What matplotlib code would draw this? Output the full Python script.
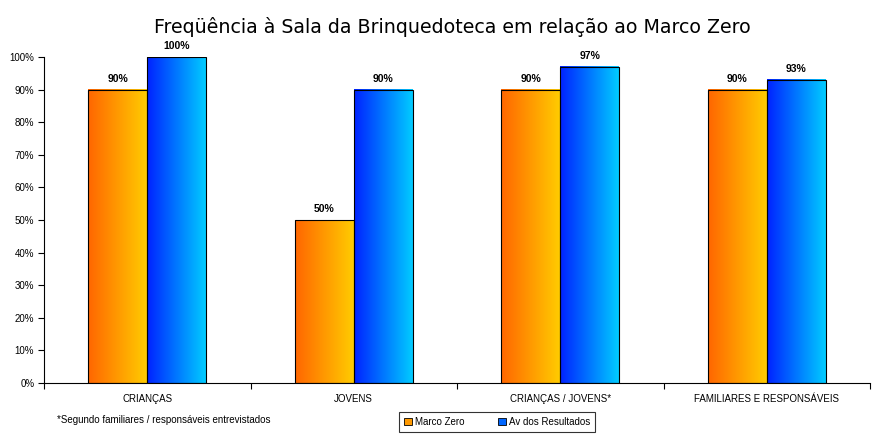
import numpy as np
import matplotlib.pyplot as plt
from matplotlib.colors import LinearSegmentedColormap
from matplotlib.patches import Patch

categories = ['CRIANÇAS', 'JOVENS', 'CRIANÇAS / JOVENS*', 'FAMILIARES E RESPONSÁVEIS']
marco_zero = [90, 50, 90, 90]
av_resultados = [100, 90, 97, 93]
series_names = ['Marco Zero', 'Av dos Resultados']

plt.rcParams['font.family'] = ['Liberation Sans', 'DejaVu Sans']

fig = plt.figure(figsize=(8.82, 4.38), dpi=100)
ax = fig.add_axes([44 / 882, 1 - 383 / 438, 826 / 882, 326 / 438])

cmap_orange = LinearSegmentedColormap.from_list('org', ['#ff6600', '#ffcc00'])
cmap_blue = LinearSegmentedColormap.from_list('blu', ['#0022ff', '#00ccff'])
grad = np.linspace(0, 1, 256).reshape(1, -1)

x = np.arange(len(categories))
w = 0.285

def gradient_bars(xs, vals, cmap):
    bars = ax.bar(xs, vals, w, color='none', edgecolor='black', linewidth=0.8, zorder=3)
    for b in bars:
        x0, y0 = b.get_x(), b.get_y()
        ax.imshow(grad, cmap=cmap, aspect='auto', zorder=2,
                  extent=(x0, x0 + b.get_width(), y0, y0 + b.get_height()))
    for b, v in zip(bars, vals):
        ax.text(b.get_x() + b.get_width() / 2, v + 1.8, f'{v}%', ha='center', va='bottom',
                fontsize=7.5, fontweight='bold')
    return bars

gradient_bars(x - w / 2, marco_zero, cmap_orange)
gradient_bars(x + w / 2, av_resultados, cmap_blue)

ax.set_xlim(-0.5, len(categories) - 0.5)
ax.set_ylim(0, 100)
ax.set_yticks(np.arange(0, 101, 10))
ax.set_yticklabels([f'{t}%' for t in range(0, 101, 10)], fontsize=7)
ax.set_xticks(np.arange(-0.5, len(categories), 1))
ax.set_xticklabels([])
ax.set_xticks(x, minor=True)
ax.set_xticklabels(categories, minor=True, fontsize=7)
ax.tick_params(axis='x', which='minor', length=0, pad=8)
ax.tick_params(axis='x', which='major', length=4, direction='out')
ax.tick_params(axis='y', length=4, direction='out', pad=3)
for s in ['top', 'right']:
    ax.spines[s].set_visible(False)

fig.text(452 / 882, 1 - 27 / 438, 'Freqüência à Sala da Brinquedoteca em relação ao Marco Zero',
         ha='center', va='center', fontsize=13.7, family=['DejaVu Sans'])
fig.text(57 / 882, 1 - 420 / 438, '*Segundo familiares / responsáveis entrevistados',
         ha='left', va='center', fontsize=7)

handles = [Patch(facecolor='#ff9900', edgecolor='black', linewidth=0.6),
           Patch(facecolor='#0066ff', edgecolor='black', linewidth=0.6)]
leg = fig.legend(handles, series_names, loc='center', bbox_to_anchor=(497 / 882, 1 - 422 / 438),
                 ncol=2, fontsize=7, frameon=True, fancybox=False, edgecolor='black',
                 handlelength=0.8, handleheight=0.8, handletextpad=0.3, columnspacing=3.5,
                 borderpad=0.5, borderaxespad=0)
leg.get_frame().set_linewidth(0.8)

fig.savefig('out.png', dpi=100)
